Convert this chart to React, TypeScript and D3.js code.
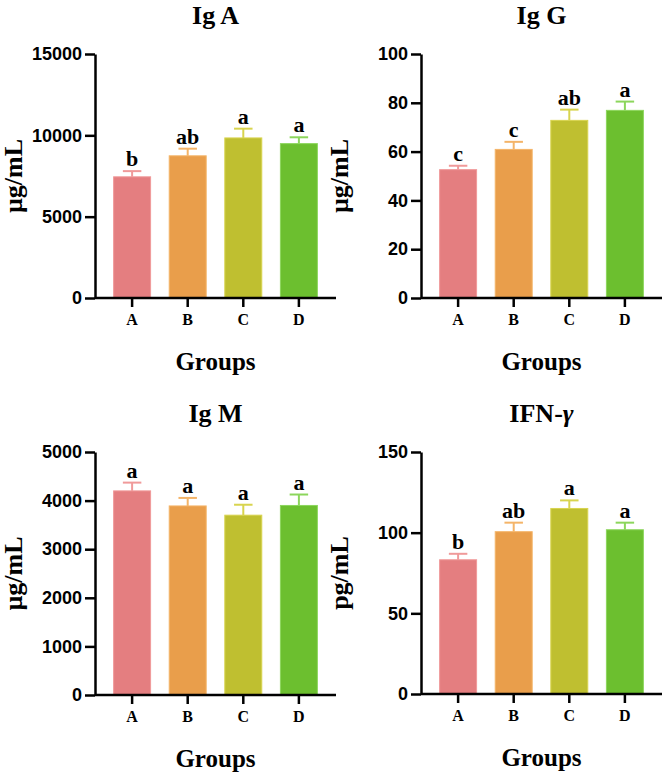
import * as d3 from 'd3'
import { useEffect, useRef } from 'react'

const groups = ['A', 'B', 'C', 'D']
const barColors = ['#e47e80', '#e99e4b', '#bfbf30', '#6cbf2f']
const errColors = ['#f09a9a', '#f4b468', '#d8d44e', '#8cd65c']

const igaMeans = [7450, 8740, 9840, 9490]
const igaErrors = [350, 440, 570, 390]
const igaLetters = ['b', 'ab', 'a', 'a']
const igaTicks = [0, 5000, 10000, 15000]

const iggMeans = [52.6, 60.9, 72.8, 76.9]
const iggErrors = [1.6, 3.1, 4.4, 3.6]
const iggLetters = ['c', 'c', 'ab', 'a']
const iggTicks = [0, 20, 40, 60, 80, 100]

const igmMeans = [4200, 3890, 3700, 3900]
const igmErrors = [170, 165, 215, 225]
const igmLetters = ['a', 'a', 'a', 'a']
const igmTicks = [0, 1000, 2000, 3000, 4000, 5000]

const ifnMeans = [83.2, 100.6, 115.0, 101.8]
const ifnErrors = [3.7, 5.6, 5.0, 4.4]
const ifnLetters = ['b', 'ab', 'a', 'a']
const ifnTicks = [0, 50, 100, 150]

type Panel = {
    title: string,
    italic?: string,
    unit: string,
    means: number[],
    errors: number[],
    letters: string[],
    ticks: number[],
    left: number,
    top: number,
    bottom: number,
}

const panels: Panel[] = [
    { title: 'Ig A', unit: 'µg/mL', means: igaMeans, errors: igaErrors, letters: igaLetters, ticks: igaTicks, left: 95, top: 54, bottom: 298 },
    { title: 'Ig G', unit: 'µg/mL', means: iggMeans, errors: iggErrors, letters: iggLetters, ticks: iggTicks, left: 421, top: 54, bottom: 298 },
    { title: 'Ig M', unit: 'µg/mL', means: igmMeans, errors: igmErrors, letters: igmLetters, ticks: igmTicks, left: 95, top: 452, bottom: 695 },
    { title: 'IFN-', italic: 'γ', unit: 'pg/mL', means: ifnMeans, errors: ifnErrors, letters: ifnLetters, ticks: ifnTicks, left: 421, top: 452, bottom: 694 },
]

const serif = '"Liberation Serif", "Times New Roman", serif'
const sans = '"Liberation Sans", Arial, sans-serif'

export default function App() {
    const dimensions = { width: 666, height: 775 }
    const svgRef = useRef<SVGSVGElement>(null)

    useEffect(() => {
        const svg = d3.select(svgRef.current)
        svg.selectAll('*').remove()

        panels.forEach((p) => {
            const plotWidth = 241
            const x = d3.scaleBand()
                .domain(groups)
                .range([p.left, p.left + plotWidth])
                .padding(0.335)
            const y = d3.scaleLinear()
                .domain([0, p.ticks[p.ticks.length - 1]])
                .range([p.bottom, p.top])

            const g = svg.append('g')

            // bars
            g.selectAll('rect.bar')
                .data(p.means)
                .enter()
                .append('rect')
                .attr('class', 'bar')
                .attr('x', (_, i) => x(groups[i])!)
                .attr('y', (d) => y(d))
                .attr('width', x.bandwidth())
                .attr('height', (d) => p.bottom - y(d))
                .attr('fill', (_, i) => barColors[i])
                .attr('stroke', (_, i) => errColors[i])
                .attr('stroke-width', 1)

            // upper error bars + letters
            const cap = x.bandwidth() / 2
            p.means.forEach((m, i) => {
                const cx = x(groups[i])! + x.bandwidth() / 2
                const top = y(m + p.errors[i])
                g.append('line')
                    .attr('x1', cx).attr('x2', cx)
                    .attr('y1', y(m)).attr('y2', top)
                    .attr('stroke', errColors[i]).attr('stroke-width', 2)
                g.append('line')
                    .attr('x1', cx - cap / 2).attr('x2', cx + cap / 2)
                    .attr('y1', top).attr('y2', top)
                    .attr('stroke', errColors[i]).attr('stroke-width', 2)
                g.append('text')
                    .attr('x', cx)
                    .attr('y', top - 5)
                    .attr('text-anchor', 'middle')
                    .attr('font-family', serif)
                    .attr('font-weight', 'bold')
                    .attr('font-size', 22)
                    .text(p.letters[i])
            })

            // axes
            const yAxis = g.append('g')
                .attr('transform', `translate(${p.left},0)`)
                .call(d3.axisLeft(y).tickValues(p.ticks).tickSize(10).tickSizeOuter(0).tickPadding(3).tickFormat(d3.format('d')))
            yAxis.selectAll('path, line').attr('stroke', '#000').attr('stroke-width', 2.5)
            yAxis.selectAll('text')
                .attr('font-family', sans)
                .attr('font-weight', 'bold')
                .attr('font-size', 18)
                .attr('fill', '#000')

            const xAxis = g.append('g')
                .attr('transform', `translate(0,${p.bottom})`)
                .call(d3.axisBottom(x).tickSize(9).tickSizeOuter(0).tickPadding(7))
            xAxis.selectAll('path, line').attr('stroke', '#000').attr('stroke-width', 2.5)
            xAxis.selectAll('text')
                .attr('font-family', serif)
                .attr('font-weight', 'bold')
                .attr('font-size', 16)
                .attr('fill', '#000')
            xAxis.select('.domain').attr('d', `M${p.left},0H${p.left + plotWidth}`)

            // titles
            const midX = p.left + plotWidth / 2
            const title = g.append('text')
                .attr('x', midX)
                .attr('y', p.top - 30)
                .attr('text-anchor', 'middle')
                .attr('font-family', serif)
                .attr('font-weight', 'bold')
                .attr('font-size', 26)
                .text(p.title)
            if (p.italic) title.append('tspan').attr('font-style', 'italic').text(p.italic)

            g.append('text')
                .attr('x', midX)
                .attr('y', p.bottom + 72)
                .attr('text-anchor', 'middle')
                .attr('font-family', serif)
                .attr('font-weight', 'bold')
                .attr('font-size', 25)
                .text('Groups')

            g.append('text')
                .attr('transform', `translate(${p.left - 73},${(p.top + p.bottom) / 2}) rotate(-90)`)
                .attr('text-anchor', 'middle')
                .attr('font-family', serif)
                .attr('font-weight', 'bold')
                .attr('font-size', 26)
                .text(p.unit)
        })
    }, [])

    return (
        <svg
            ref={svgRef}
            width={dimensions.width}
            height={dimensions.height}
            style={{ position: 'absolute', left: 0, top: 0, background: '#fff' }}
        />
    )
}
